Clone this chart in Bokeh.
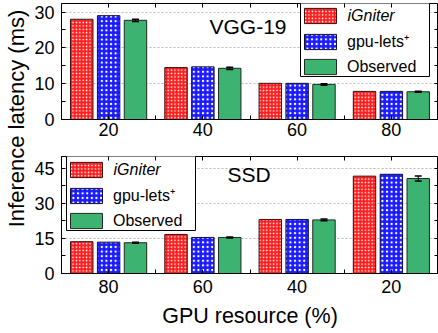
import numpy as np
from bokeh.plotting import figure
from bokeh.models import (FixedTicker, LinearAxis, Range1d, Legend, LegendItem,
                          Label, Whisker, ColumnDataSource, TeeHead,
                          CustomLabelingPolicy, BoxAnnotation)
from bokeh.layouts import row, column
from bokeh.embed import file_html
from bokeh.resources import INLINE

FONT = "Liberation Sans"

# VGG-19 panel (GPU resource increasing left to right)
vgg_gpu = ["20", "40", "60", "80"]
vgg_igniter = [28.0, 14.5, 10.1, 7.85]
vgg_gpulets = [29.0, 14.7, 10.1, 7.85]
vgg_observed = [27.7, 14.3, 9.8, 7.75]
vgg_observed_err = [0.3, 0.3, 0.2, 0.15]

# SSD panel (GPU resource decreasing left to right)
ssd_gpu = ["80", "60", "40", "20"]
ssd_igniter = [13.6, 16.7, 23.1, 41.6]
ssd_gpulets = [13.4, 15.4, 23.1, 42.4]
ssd_observed = [13.15, 15.4, 22.9, 40.6]
ssd_observed_err = [0.2, 0.2, 0.4, 1.1]

vgg_yticks = [0, 10, 20, 30]
vgg_yminor = [5, 15, 25]
ssd_yticks = [0, 15, 30, 45]
ssd_yminor = [7.5, 22.5, 37.5]

series_names = ["iGniter", "gpu-lets\u207a", "Observed"]

BAR_W = 0.238
STEP = 0.285

# legend geometry (pixels)
LEG_PAD, LEG_SPACING, GLYPH_W, GLYPH_H, LABEL_GAP = 4, 5, 40, 19, 7
LEG_BOX_W = 129

# hides every tick label of the mirrored (top/right) axes
NO_LABELS = CustomLabelingPolicy(code="""
    for (const i of indices)
        indices.unset(i)
    return indices
""")


def style_axis(ax, size="18px", standoff=7):
    ax.axis_line_color = "black"
    ax.major_tick_in = 4
    ax.major_tick_out = 0
    ax.minor_tick_in = 4
    ax.minor_tick_out = 0
    ax.major_tick_line_color = "black"
    ax.minor_tick_line_color = "black"
    ax.major_label_text_font = FONT
    ax.major_label_text_font_size = size
    ax.major_label_text_color = "black"
    ax.major_label_standoff = standoff
    ax.axis_label_text_font = FONT
    ax.axis_label_text_font_style = "normal"
    ax.axis_label_text_color = "black"


def mirror_axis(p, ticker, side):
    ax = LinearAxis(ticker=ticker)
    style_axis(ax)
    ax.major_label_text_font_size = "0px"
    ax.major_label_standoff = 0
    ax.major_label_policy = NO_LABELS
    ax.axis_line_color = None
    p.add_layout(ax, side)


def panel(gpu, igniter, gpulets, observed, err, ymax, yticks, yminor,
          name, name_xy, legend_xy, height, border_top, border_bottom,
          xlabel=None, xstandoff=3):
    pos = np.arange(1, len(gpu) + 1)
    p = figure(width=408, height=height, output_backend="svg",
               toolbar_location=None,
               x_range=Range1d(0.5, len(gpu) + 0.5),
               y_range=Range1d(0, ymax),
               min_border_left=31, min_border_right=0,
               min_border_top=border_top, min_border_bottom=border_bottom)
    p.outline_line_color = "black"
    p.outline_line_width = 1
    p.background_fill_color = "white"
    p.border_fill_color = "white"

    src = ColumnDataSource(dict(
        x_ig=pos - STEP, x_gl=pos, x_ob=pos + STEP,
        igniter=igniter, gpulets=gpulets, observed=observed,
        upper=np.array(observed) + np.array(err),
        lower=np.array(observed) - np.array(err)))

    r_ig = p.vbar(x="x_ig", top="igniter", width=BAR_W, source=src,
                  fill_color="#ff1a1a", line_color="#3a1010", line_width=1,
                  hatch_pattern="dot", hatch_color="white", hatch_scale=3.4,
                  hatch_weight=0.8)
    r_gl = p.vbar(x="x_gl", top="gpulets", width=BAR_W, source=src,
                  fill_color="#1a1aff", line_color="#10103a", line_width=1,
                  hatch_pattern="dot", hatch_color="white", hatch_scale=4.6,
                  hatch_weight=1.2)
    r_ob = p.vbar(x="x_ob", top="observed", width=BAR_W, source=src,
                  fill_color="#3cb371", line_color="#1e2a22", line_width=1)

    wh = Whisker(source=src, base="x_ob", upper="upper", lower="lower",
                 line_color="black", line_width=1, level="overlay",
                 upper_head=TeeHead(size=7, line_color="black", line_width=1.5),
                 lower_head=TeeHead(size=7, line_color="black", line_width=1.5))
    p.add_layout(wh)

    xticker = FixedTicker(ticks=list(pos), minor_ticks=list(pos[:-1] + 0.5))
    yticker = FixedTicker(ticks=yticks, minor_ticks=yminor)

    p.xaxis.ticker = xticker
    p.xaxis.major_label_overrides = {int(k): v for k, v in zip(pos, gpu)}
    p.yaxis.ticker = yticker
    style_axis(p.xaxis[0], standoff=xstandoff)
    style_axis(p.yaxis[0])
    if xlabel:
        p.xaxis.axis_label = xlabel
        p.xaxis.axis_label_text_font_size = "21.5px"
        p.xaxis.axis_label_standoff = 8

    mirror_axis(p, xticker, "above")
    mirror_axis(p, yticker, "right")

    p.xgrid.grid_line_color = None
    p.ygrid.grid_line_color = "#b8b8b8"
    p.ygrid.grid_line_dash = "2 2"
    p.ygrid.grid_line_width = 1

    p.add_layout(Label(x=name_xy[0], y=name_xy[1], text=name,
                       text_font=FONT, text_font_size="21px",
                       text_align="left", text_baseline="middle",
                       text_color="black"))

    # Legend: white framed box underneath, transparent legend on top, and the
    # first entry's name set in italics over its blank text slot.
    renderers = [r_ig, r_gl, r_ob]
    labels = [" ", series_names[1], series_names[2]]
    n = len(labels)
    leg_h = 2 * LEG_PAD + n * GLYPH_H + (n - 1) * LEG_SPACING
    lx, ly = legend_xy
    p.add_layout(BoxAnnotation(left=lx, right=lx + LEG_BOX_W,
                               bottom=ly, top=ly + leg_h,
                               left_units="screen", right_units="screen",
                               bottom_units="screen", top_units="screen",
                               fill_color="white", fill_alpha=1,
                               line_color="black", line_width=1,
                               line_alpha=1, level="glyph"))
    leg = Legend(items=[LegendItem(label=t, renderers=[r])
                        for t, r in zip(labels, renderers)],
                 location=legend_xy, glyph_width=GLYPH_W, glyph_height=GLYPH_H,
                 label_height=GLYPH_H, spacing=LEG_SPACING, padding=LEG_PAD,
                 margin=0, label_standoff=LABEL_GAP, label_text_font=FONT,
                 label_text_font_size="16px", label_text_color="black",
                 border_line_color=None, background_fill_alpha=0)
    p.add_layout(leg)
    p.add_layout(Label(x=lx + GLYPH_W + LABEL_GAP,
                       y=ly + leg_h - LEG_PAD - GLYPH_H / 2,
                       x_units="screen", y_units="screen",
                       text=series_names[0], text_font=FONT,
                       text_font_style="italic", text_font_size="16px",
                       text_align="left", text_baseline="middle",
                       text_color="black", level="overlay"))
    return p


top = panel(vgg_gpu, vgg_igniter, vgg_gpulets, vgg_observed, vgg_observed_err,
            32.4, vgg_yticks, vgg_yminor, "VGG-19", (2.07, 25.9), (239, 43),
            height=143, border_top=3, border_bottom=24, xstandoff=3)
bottom = panel(ssd_gpu, ssd_igniter, ssd_gpulets, ssd_observed, ssd_observed_err,
               50, ssd_yticks, ssd_yminor, "SSD", (2.26, 42.1), (5, 43),
               height=190, border_top=13, border_bottom=60,
               xlabel="GPU resource (%)", xstandoff=6)

# Narrow strip carrying the shared y-axis title
lab = figure(width=30, height=333, output_backend="svg", toolbar_location=None,
             min_border=0, x_range=Range1d(0, 1), y_range=Range1d(0, 1))
lab.axis.visible = False
lab.grid.visible = False
lab.outline_line_color = None
lab.add_layout(Label(x=16, y=333 - 118, x_units="screen", y_units="screen",
                     text="Inference latency (ms)", angle=np.pi / 2,
                     text_font=FONT, text_font_size="22px",
                     text_align="center", text_baseline="middle",
                     text_color="black"))

layout = row(lab, column(top, bottom))

open("out.html", "w").write(file_html(layout, INLINE))
